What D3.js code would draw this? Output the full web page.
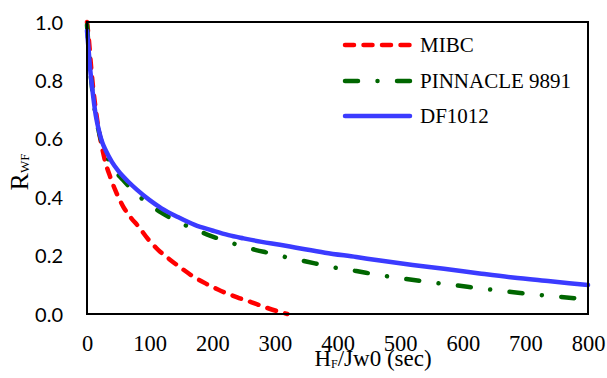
<!DOCTYPE html>
<html>
<head>
<meta charset="utf-8">
<script src="https://cdn.jsdelivr.net/npm/d3@7"></script>
<style>
  html, body { margin: 0; padding: 0; background: #fff; }
  svg { display: block; }
</style>
</head>
<body>
<svg id="chart" width="607" height="378"></svg>
<script>
// ---- data ----
const seriesNames = ["MIBC", "PINNACLE 9891", "DF1012"];
const seriesColors = ["#ff0000", "#006600", "#3b3bff"];

const mibcX = [0, 3, 6, 10, 14, 18, 24, 30, 37, 45, 58, 70, 82, 98, 114, 132, 150, 167, 190, 210, 240, 263, 286, 305, 320];
const mibcY = [1.0, 0.94, 0.86, 0.77, 0.70, 0.64, 0.57, 0.515, 0.47, 0.425, 0.367, 0.33, 0.30, 0.255, 0.219, 0.187, 0.158, 0.132, 0.104, 0.083, 0.057, 0.04, 0.022, 0.009, 0.0];

const pinX = [0, 2, 5, 8, 14, 20, 30, 40, 58, 70, 86, 100, 118, 136, 154, 172, 192, 210, 230, 250, 270, 290, 309, 350, 388, 430, 469, 510, 550, 590, 631, 672, 713, 754, 800];
const pinY = [0.99, 0.93, 0.84, 0.775, 0.675, 0.615, 0.55, 0.505, 0.458, 0.43, 0.398, 0.375, 0.348, 0.326, 0.307, 0.29, 0.272, 0.258, 0.244, 0.231, 0.219, 0.209, 0.199, 0.18, 0.162, 0.147, 0.1325, 0.12, 0.1085, 0.098, 0.087, 0.077, 0.0674, 0.059, 0.05];

const dfX = [0, 2, 5, 8, 14, 20, 24, 30, 40, 50, 66, 80, 100, 119, 145, 172, 200, 226, 250, 279, 308, 332, 380, 430, 468, 520, 570, 627, 680, 740, 800];
const dfY = [0.97, 0.92, 0.84, 0.78, 0.68, 0.62, 0.59, 0.56, 0.52, 0.49, 0.453, 0.425, 0.39, 0.362, 0.332, 0.305, 0.286, 0.27, 0.259, 0.247, 0.237, 0.228, 0.21, 0.195, 0.183, 0.168, 0.155, 0.139, 0.125, 0.112, 0.099];

const xTicks = [0, 100, 200, 300, 400, 500, 600, 700, 800];
const yTicks = [0.0, 0.2, 0.4, 0.6, 0.8, 1.0];

// ---- layout ----
const svg = d3.select("#chart");
const L = 87, R = 588, T = 22, B = 314;

const x = d3.scaleLinear().domain([0, 800]).range([L, R]);
const y = d3.scaleLinear().domain([0, 1]).range([B, T]);

// y tick labels
const yAxis = d3.axisLeft(y).tickValues(yTicks).tickFormat(d3.format(".1f")).tickSize(0).tickPadding(24);
const gy = svg.append("g").attr("transform", `translate(${L},0)`).call(yAxis);
gy.select(".domain").remove();
gy.selectAll("text").attr("font-family", "Lato, 'Open Sans', sans-serif").attr("font-size", 20).attr("fill", "#000").attr("dy", "0.35em");

// x tick labels
const xAxis = d3.axisBottom(x).tickValues(xTicks).tickFormat(d3.format("d")).tickSize(0).tickPadding(0);
const gx = svg.append("g").attr("transform", `translate(0,${B})`).call(xAxis);
gx.select(".domain").remove();
gx.selectAll("text").attr("font-family", "'Liberation Serif', 'Times New Roman', serif").attr("font-size", 22.5).attr("fill", "#000").attr("dy", null).attr("y", 37);

// series lines
const series = [
  {name: seriesNames[0], xs: mibcX, ys: mibcY, color: seriesColors[0], dash: "9 9.5"},
  {name: seriesNames[1], xs: pinX, ys: pinY, color: seriesColors[1], dash: "13 19.5 0.01 19.5"},
  {name: seriesNames[2], xs: dfX, ys: dfY, color: seriesColors[2], dash: null}
];

const line = d3.line().x(d => x(d[0])).y(d => y(d[1])).curve(d3.curveMonotoneX);

series.forEach(s => {
  const pts = s.xs.map((v, i) => [v, s.ys[i]]);
  svg.append("path")
    .datum(pts)
    .attr("d", line)
    .attr("fill", "none")
    .attr("stroke", s.color)
    .attr("stroke-width", 4.5)
    .attr("stroke-linecap", "round")
    .attr("stroke-linejoin", "round")
    .attr("stroke-dasharray", s.dash);
});

// frame
svg.append("rect")
  .attr("x", L).attr("y", T).attr("width", R - L).attr("height", B - T)
  .attr("fill", "none").attr("stroke", "#000").attr("stroke-width", 2);

// legend
const legY = [45, 81, 116];
series.forEach((s, i) => {
  svg.append("line")
    .attr("x1", 345).attr("x2", 410).attr("y1", legY[i]).attr("y2", legY[i])
    .attr("stroke", s.color).attr("stroke-width", 4.5)
    .attr("stroke-linecap", "round")
    .attr("stroke-dasharray", s.dash);
  svg.append("text")
    .attr("x", 420).attr("y", legY[i] + 7)
    .attr("font-family", "'Liberation Serif', 'Times New Roman', serif")
    .attr("font-size", 21)
    .attr("fill", "#000")
    .text(s.name);
});

// x axis title
const xt = svg.append("text")
  .attr("x", 373).attr("y", 366)
  .attr("text-anchor", "middle")
  .attr("font-family", "'Liberation Serif', 'Times New Roman', serif")
  .attr("font-size", 23)
  .attr("fill", "#000");
xt.append("tspan").text("H");
xt.append("tspan").attr("font-size", 12).attr("dy", 2).text("F");
xt.append("tspan").attr("dy", -2).text("/Jw0 (sec)");

// y axis title
const yt = svg.append("text")
  .attr("transform", "translate(28,172) rotate(-90)")
  .attr("text-anchor", "middle")
  .attr("font-family", "'Liberation Serif', 'Times New Roman', serif")
  .attr("font-size", 26)
  .attr("fill", "#000");
yt.append("tspan").text("R");
yt.append("tspan").attr("font-size", 13).attr("dy", 1).text("WF");
</script>
</body>
</html>
